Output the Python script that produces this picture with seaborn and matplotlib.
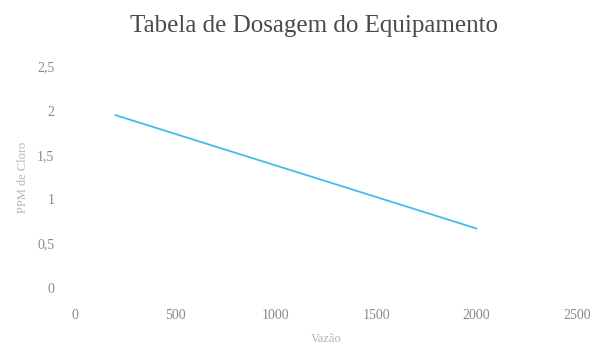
import matplotlib
matplotlib.use("Agg")
import matplotlib.pyplot as plt
import seaborn as sns
import pandas as pd

vazao = [200, 2000]
ppm_cloro = [1.95, 0.67]
x_ticks = [0, 500, 1000, 1500, 2000, 2500]
y_ticks = [0, 0.5, 1, 1.5, 2, 2.5]
y_tick_labels = ["0", "0,5", "1", "1,5", "2", "2,5"]

sns.set_style("white")
plt.rcParams["font.family"] = ["Liberation Serif", "DejaVu Sans"]

df = pd.DataFrame({"Vazão": vazao, "PPM de Cloro": ppm_cloro})

fig, ax = plt.subplots(figsize=(6.01, 3.49), dpi=100)
fig.subplots_adjust(left=0.125, right=0.96, top=0.81, bottom=0.175)

sns.lineplot(data=df, x="Vazão", y="PPM de Cloro", ax=ax,
             color="#3fbfe8", linewidth=1.3)

ax.set_xlim(0, 2500)
ax.set_ylim(0, 2.5)
ax.set_xticks(x_ticks)
ax.set_yticks(y_ticks)
ax.set_yticklabels(y_tick_labels)
for s in ax.spines.values():
    s.set_visible(False)
ax.tick_params(axis="both", length=0, colors="#8a8a8a", labelsize=10)
ax.tick_params(axis="x", pad=15)
ax.tick_params(axis="y", pad=15)

ax.set_title("Tabela de Dosagem do Equipamento", fontsize=18,
             color="#4a4a4a", pad=25, x=0.476)
ax.set_xlabel("Vazão", color="#b5b5b5", fontsize=9, labelpad=8)
ax.set_ylabel("PPM de Cloro", color="#b5b5b5", fontsize=9, labelpad=6)

fig.savefig("out.png", dpi=100)
